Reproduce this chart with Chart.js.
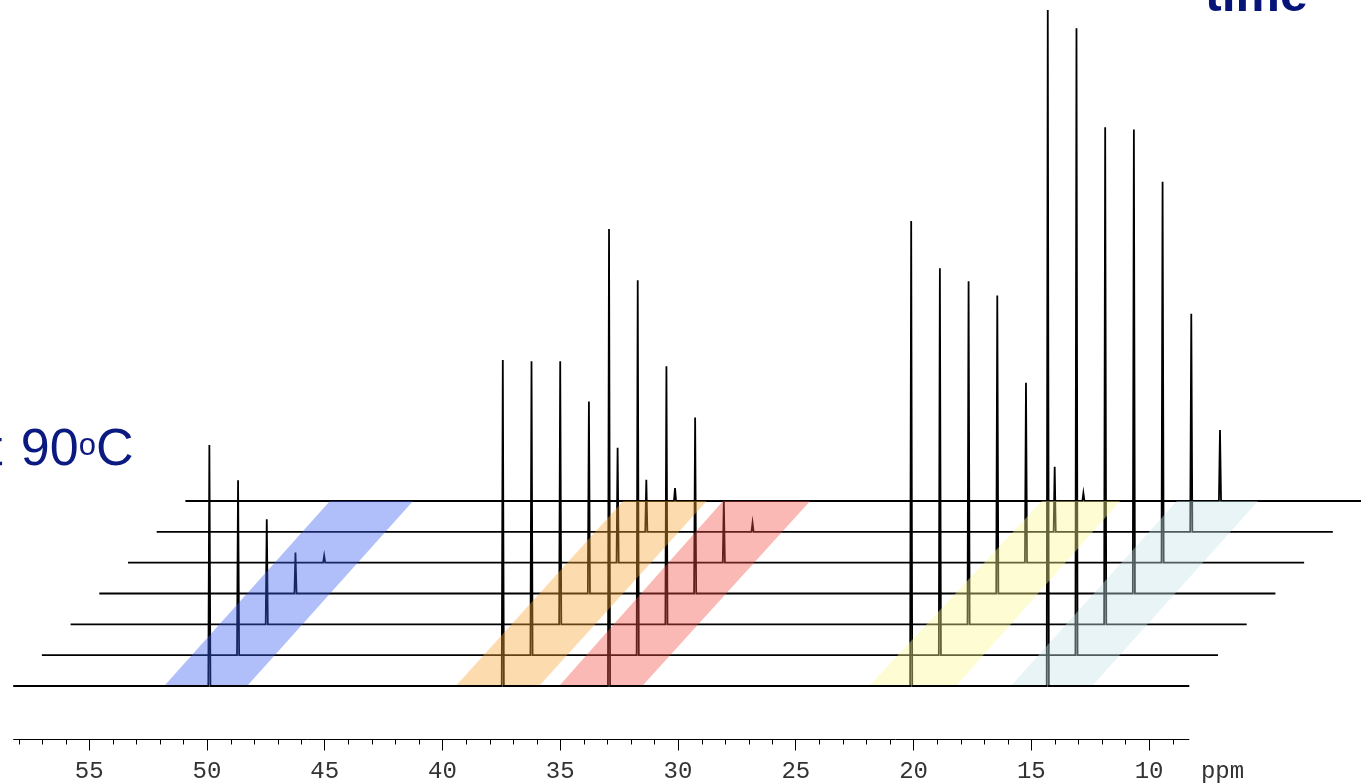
<!DOCTYPE html>
<html>
<head>
<meta charset="utf-8">
<script src="https://cdn.jsdelivr.net/npm/chart.js@4/dist/chart.umd.min.js"></script>
<style>
  html, body { margin: 0; padding: 0; background: #fff; overflow: hidden; }
  #wrap { position: relative; width: 1361px; height: 783px; }
  #c { position: absolute; left: 0; top: 0; }
  .note { position: absolute; font-family: "Liberation Sans", Arial, sans-serif; line-height: 1; white-space: nowrap; }
  #temp { left: -37px; top: 421px; font-size: 52px; color: #0b1a80; }
  #temp .lead { position: relative; left: -4px; }
  #temp .deg { font-size: 31px; position: relative; top: -10px; }
  #time { left: 1205px; top: -31px; font-size: 50px; font-weight: bold; color: #06147a; }
</style>
</head>
<body>
<div id="wrap">
  <canvas id="c" width="1361" height="783"></canvas>
  <div class="note" id="temp"><span class="lead">at</span> 90<span class="deg">o</span>C</div>
  <div class="note" id="time">time</div>
</div>
<script>
// Chemical shifts (ppm) of the five resonances followed through the series
const peakPpm = [49.9, 37.44, 32.93, 20.10, 14.30];

// Peak heights in each spectrum, bottom spectrum first
const heights49 = [241, 175, 105, 41, 7, 0, 0];
const heights37 = [326, 294, 263, 192, 115, 52, 13];
const heights33 = [457, 375, 258, 176, 62, 9, 0];
const heights20 = [465, 387, 343, 298, 180, 65, 8];
const heights14 = [676, 627, 497, 464, 381, 218, 71];

// Axis ticks (ppm): every integer gets a tick, multiples of five get a label
const tickValues = [58, 57, 56, 55, 54, 53, 52, 51, 50, 49, 48, 47, 46, 45, 44, 43, 42, 41, 40,
                    39, 38, 37, 36, 35, 34, 33, 32, 31, 30, 29, 28, 27, 26, 25, 24, 23, 22, 21, 20,
                    19, 18, 17, 16, 15, 14, 13, 12, 11, 10, 9];
const majorTicks = [55, 50, 45, 40, 35, 30, 25, 20, 15, 10];
const axisUnit = 'ppm';

// Highlight bands: bottom-left, bottom-right, top-left, top-right edges (ppm)
const bandBlue   = [51.78, 48.26, 44.78, 41.25];
const bandOrange = [39.40, 35.86, 32.33, 28.78];
const bandRed    = [35.01, 31.48, 28.09, 24.39];
const bandYellow = [21.85, 18.16, 14.55, 11.23];
const bandCyan   = [15.83, 12.38,  8.82,  5.37];

// ---- drawing geometry ----
const SPECTRUM_FROM = 58.23, SPECTRUM_TO = 8.29;   // recorded window
const STACK_DX = 1.2187;                           // ppm shift per stacked spectrum
const STACK_DY = 30.83;                            // vertical offset per stacked spectrum
const LINE_HALF = 0.045;                           // half width of a peak at its foot
const AXIS_MIN = 1.0, AXIS_MAX = 58.79;
const Y_MIN = -52.5, Y_MAX = 686;
const UNIT_POS = 6.88;                             // where the unit label sits
const BAND_LOW = 1, BAND_HIGH = 185;
const MINOR_LEN = 5;

const heightSets = [heights49, heights37, heights33, heights20, heights14];
const nSpectra = heights49.length;

const spectra = [];
for (let k = 0; k < nSpectra; k++) {
  const base = k * STACK_DY, dx = k * STACK_DX;
  const pts = [{ x: SPECTRUM_FROM - dx, y: base }];
  peakPpm.forEach((p, i) => {
    const h = heightSets[i][k];
    if (!h) return;
    const c = p - dx;
    pts.push({ x: c + LINE_HALF, y: base }, { x: c, y: base + h }, { x: c - LINE_HALF, y: base });
  });
  pts.push({ x: SPECTRUM_TO - dx, y: base });
  spectra.push(pts);
}

function bandShape(b) {
  return [
    { x: b[0], y: BAND_LOW }, { x: b[1], y: BAND_LOW },
    { x: b[3], y: BAND_HIGH }, { x: b[2], y: BAND_HIGH }, { x: b[0], y: BAND_LOW }
  ];
}

const bands = [
  [bandBlue,   'rgba(58, 93, 243, 0.4)'],
  [bandOrange, 'rgba(247, 167, 55, 0.4)'],
  [bandRed,    'rgba(243, 80, 68, 0.4)'],
  [bandYellow, 'rgba(252, 247, 142, 0.4)'],
  [bandCyan,   'rgba(197, 227, 232, 0.4)']
];

const datasets = [];
bands.forEach(([b, color]) => datasets.push({
  data: bandShape(b), fill: 'shape', backgroundColor: color,
  borderWidth: 0, borderColor: 'rgba(0,0,0,0)', pointRadius: 0, order: 0
}));
spectra.forEach(pts => datasets.push({
  data: pts, fill: false, borderColor: '#000', borderWidth: 1.8,
  pointRadius: 0, order: 1
}));

// Axis line and minor ticks
const axisDecor = {
  id: 'axisDecor',
  afterDraw(chart) {
    const s = chart.scales.x, ctx = chart.ctx;
    const y0 = Math.round(s.top) + 0.5;
    ctx.save();
    ctx.strokeStyle = '#000';
    ctx.lineWidth = 1;
    ctx.beginPath();
    ctx.moveTo(s.getPixelForValue(SPECTRUM_FROM), y0);
    ctx.lineTo(s.getPixelForValue(SPECTRUM_TO), y0);
    tickValues.forEach(v => {
      if (majorTicks.includes(v)) return;
      const px = Math.round(s.getPixelForValue(v)) + 0.5;
      ctx.moveTo(px, y0);
      ctx.lineTo(px, y0 + MINOR_LEN);
    });
    ctx.stroke();
    ctx.restore();
  }
};

new Chart(document.getElementById('c'), {
  type: 'line',
  data: { datasets },
  options: {
    responsive: false,
    devicePixelRatio: 1,
    animation: false,
    layout: { padding: { left: 0, right: 0, top: 0, bottom: -8.9 } },
    plugins: { legend: { display: false }, tooltip: { enabled: false } },
    elements: { line: { tension: 0 } },
    scales: {
      x: {
        type: 'linear',
        reverse: true,
        min: AXIS_MIN,
        max: AXIS_MAX,
        border: { display: false },
        grid: {
          drawOnChartArea: false,
          drawTicks: true,
          tickLength: 12,
          tickWidth: 1,
          tickColor: c => (c.tick && majorTicks.includes(c.tick.value)) ? '#000' : 'rgba(0,0,0,0)'
        },
        afterBuildTicks: scale => {
          scale.ticks = tickValues.concat([UNIT_POS]).map(v => ({ value: v }));
        },
        ticks: {
          autoSkip: false,
          maxRotation: 0,
          minRotation: 0,
          padding: 8.7,
          color: '#333',
          font: { family: '"Liberation Mono", "Courier New", monospace', size: 24, lineHeight: 1 },
          callback: v => v === UNIT_POS ? axisUnit : (majorTicks.includes(v) ? String(v) : '')
        }
      },
      y: { type: 'linear', display: false, min: Y_MIN, max: Y_MAX }
    }
  },
  plugins: [axisDecor]
});
</script>
</body>
</html>
